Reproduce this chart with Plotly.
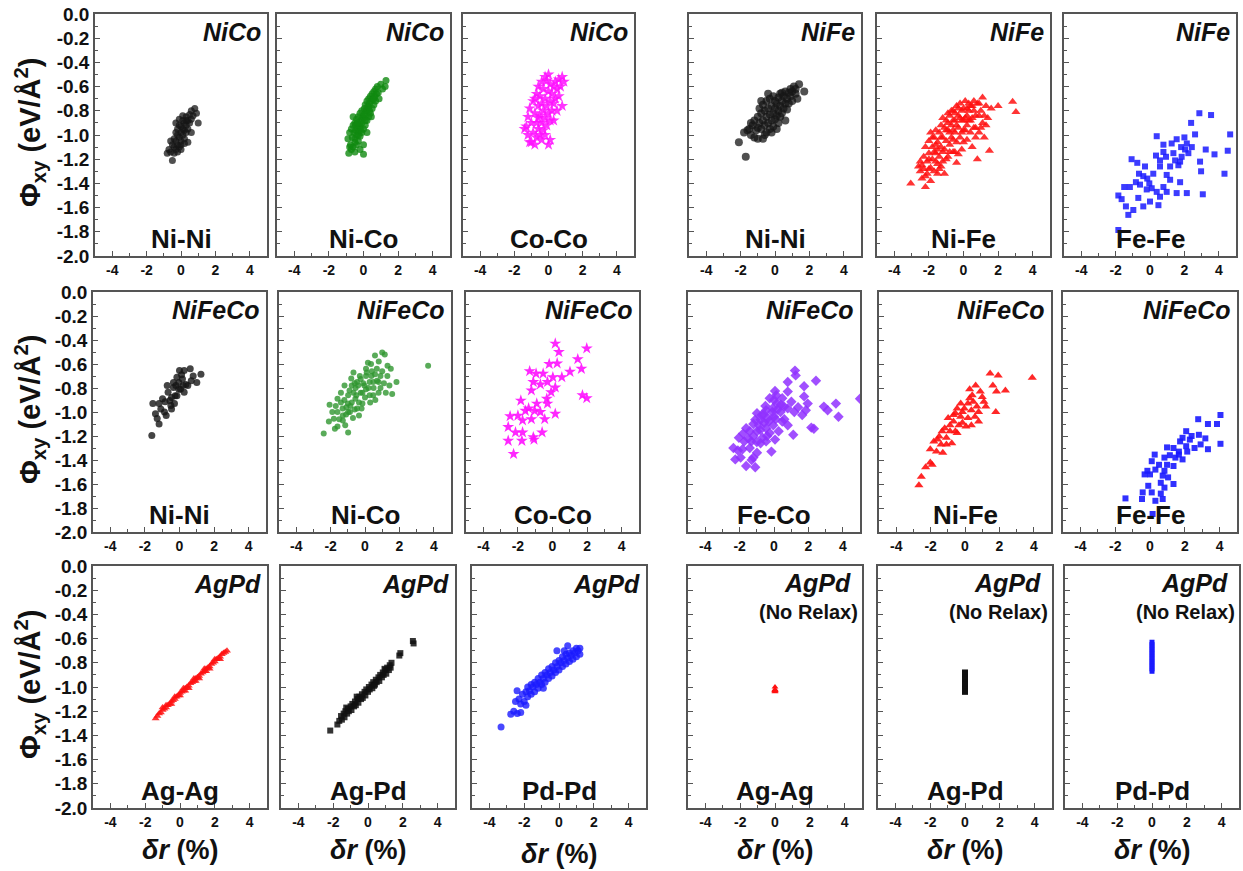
import plotly.graph_objects as go

W, H = 1243, 871

# ---------------- data ----------------
NICO_NINI = [(-0.8,-1.15),(-0.7,-1.12),(-0.6,-1.14),(-0.5,-1.21),(-0.5,-1.08),(-0.4,-1.10),(-0.4,-1.03),
             (-0.3,-1.12),(-0.3,-1.05),(-0.3,-0.98),(-0.2,-1.08),(-0.2,-1.00),(-0.2,-0.95),(-0.1,-1.10),
             (-0.1,-1.02),(-0.1,-0.92),(0.0,-1.05),(0.0,-0.98),(0.0,-0.93),(0.0,-1.12),(0.1,-1.00),(0.1,-0.95),
             (0.1,-0.88),(0.2,-1.03),(0.2,-0.96),(0.2,-0.90),(0.3,-0.98),(0.3,-0.92),(0.3,-0.85),(0.4,-0.95),
             (0.4,-0.88),(0.5,-0.90),(0.5,-0.83),(0.6,-0.87),(0.6,-0.80),(0.7,-0.84),(0.8,-0.78),(0.9,-0.82),
             (1.0,-0.90),(-0.6,-1.05),(-0.4,-1.15),(-0.2,-1.14),(0.0,-1.08),(0.2,-1.07),(0.4,-1.06),(0.6,-0.98),
             (-0.1,-0.87),(0.1,-0.84),(0.3,-0.88),(-0.3,-0.90)]
NICO_NICO = [(-0.9,-1.03),(-0.85,-1.15),(-0.8,-0.98),(-0.75,-1.08),(-0.7,-1.12),(-0.7,-0.95),(-0.65,-1.02),
             (-0.6,-1.10),(-0.6,-0.92),(-0.55,-0.98),(-0.5,-1.14),(-0.5,-1.03),(-0.5,-0.90),(-0.45,-0.96),
             (-0.4,-1.08),(-0.4,-1.00),(-0.4,-0.87),(-0.35,-0.94),(-0.3,-1.05),(-0.3,-0.97),(-0.3,-0.85),
             (-0.25,-0.91),(-0.2,-1.01),(-0.2,-0.93),(-0.2,-0.82),(-0.15,-0.88),(-0.1,-0.98),(-0.1,-0.90),
             (-0.1,-0.80),(-0.05,-0.85),(0.0,-1.16),(0.0,-0.95),(0.0,-0.86),(0.05,-0.78),(0.1,-0.92),(0.1,-0.84),
             (0.1,-0.75),(0.15,-0.80),(0.2,-0.88),(0.2,-0.80),(0.2,-0.72),(0.25,-0.76),(0.3,-0.85),(0.3,-0.77),
             (0.3,-0.70),(0.35,-0.74),(0.4,-0.82),(0.4,-0.68),(0.45,-0.72),(0.5,-0.78),(0.5,-0.66),(0.55,-0.70),
             (0.6,-0.75),(0.6,-0.64),(0.65,-0.68),(0.7,-0.72),(0.7,-0.62),(0.75,-0.66),(0.8,-0.60),(0.85,-0.65),
             (0.9,-0.70),(1.0,-0.58),(1.1,-0.62),(1.3,-0.55),(1.25,-0.60),(-0.2,-1.12),(0.0,-1.08),(-0.6,-0.85),
             (-0.3,-1.00),(0.2,-0.98),(0.45,-0.85),(-0.45,-0.92),(-0.15,-0.96),(0.1,-0.88),(0.35,-0.80),
             (0.6,-0.70),(-0.8,-1.10),(-0.5,-1.06),(0.05,-0.83),(-0.35,-0.90)]
NICO_COCO = [(-1.3,-0.93),(-1.4,-0.95),(-1.2,-0.85),(-1.2,-1.0),(-1.1,-0.78),(-1.0,-1.06),(-1.0,-0.9),
             (-0.9,-0.72),(-0.9,-0.98),(-0.8,-0.82),(-0.8,-1.08),(-0.7,-0.66),(-0.7,-0.9),(-0.7,-1.02),
             (-0.6,-0.6),(-0.6,-0.76),(-0.6,-0.95),(-0.5,-0.68),(-0.5,-0.84),(-0.5,-1.0),(-0.4,-0.56),
             (-0.4,-0.74),(-0.4,-0.9),(-0.4,-1.04),(-0.3,-0.62),(-0.3,-0.8),(-0.3,-0.96),(-0.2,-0.7),
             (-0.2,-0.86),(-0.2,-1.0),(-0.1,-0.55),(-0.1,-0.76),(-0.1,-0.92),(0.0,-0.5),(0.0,-0.64),(0.0,-0.82),
             (0.0,-1.08),(0.1,-0.58),(0.1,-0.72),(0.1,-1.04),(0.2,-0.66),(0.2,-0.8),(0.3,-0.6),(0.3,-0.74),
             (0.4,-0.56),(0.4,-0.7),(0.5,-0.62),(0.5,-0.8),(0.6,-0.54),(0.6,-0.68),(0.7,-0.6),(0.8,-0.52),
             (0.9,-0.56),(0.8,-0.76),(-0.8,-0.7),(-1.1,-1.06),(-0.2,-0.52),(0.3,-0.88),(-0.6,-0.86),(0.1,-0.88)]
NIFE_NINI = [(-2.1,-1.06),(-1.7,-1.18),(-1.8,-0.98),(-1.5,-0.95),(-1.4,-1.0),(-1.3,-0.92),(-1.2,-1.02),
             (-1.2,-0.88),(-1.1,-0.96),(-1.0,-0.85),(-1.0,-1.03),(-0.9,-0.9),(-0.9,-0.78),(-0.8,-0.95),
             (-0.8,-0.82),(-0.7,-1.03),(-0.7,-0.88),(-0.7,-0.75),(-0.6,-0.92),(-0.6,-0.8),(-0.5,-0.98),
             (-0.5,-0.85),(-0.5,-0.72),(-0.4,-0.9),(-0.4,-0.78),(-0.3,-0.95),(-0.3,-0.83),(-0.3,-0.7),
             (-0.2,-0.88),(-0.2,-0.76),(-0.1,-0.93),(-0.1,-0.82),(-0.1,-0.68),(0.0,-0.87),(0.0,-0.78),
             (0.0,-0.72),(0.1,-0.84),(0.1,-0.74),(0.2,-0.9),(0.2,-0.8),(0.2,-0.69),(0.3,-0.85),(0.3,-0.76),
             (0.4,-0.82),(0.4,-0.72),(0.4,-0.65),(0.5,-0.78),(0.5,-0.68),(0.6,-0.88),(0.6,-0.74),(0.6,-0.64),
             (0.7,-0.79),(0.7,-0.7),(0.8,-0.74),(0.8,-0.65),(0.9,-0.68),(0.9,-0.62),(1.0,-0.72),(1.0,-0.64),
             (1.1,-0.6),(1.2,-0.66),(1.2,-0.62),(1.4,-0.58),(1.3,-0.7),(1.7,-0.64),(-0.6,-1.0),(-1.0,-0.94),
             (-0.2,-0.98),(0.1,-0.95),(-1.6,-0.96),(-0.4,-0.66),(-0.8,-0.72),(-1.4,-0.9),(0.3,-0.66)]
NIFE_NIFE = [(-3.05,-1.40),(-2.2,-1.43),(-2.5,-1.30),(-2.5,-1.22),(-2.4,-1.36),(-2.3,-1.28),(-2.3,-1.18),
             (-2.2,-1.10),(-2.1,-1.32),(-2.1,-1.22),(-2.0,-1.15),(-2.0,-1.05),(-1.9,-1.27),(-1.9,-0.98),
             (-1.8,-1.20),(-1.8,-1.10),(-1.7,-1.02),(-1.7,-1.30),(-1.6,-1.15),(-1.6,-0.96),(-1.5,-1.24),
             (-1.5,-1.06),(-1.4,-0.98),(-1.4,-1.18),(-1.3,-1.10),(-1.3,-0.92),(-1.2,-1.02),(-1.2,-1.22),
             (-1.1,-1.32),(-1.1,-0.94),(-1.1,-1.12),(-1.0,-0.88),(-1.0,-1.05),(-0.9,-1.18),(-0.9,-0.96),
             (-0.8,-0.84),(-0.8,-1.08),(-0.7,-0.92),(-0.7,-1.02),(-0.6,-0.80),(-0.6,-1.14),(-0.5,-0.88),
             (-0.5,-0.98),(-0.4,-0.76),(-0.4,-1.06),(-0.4,-1.23),(-0.3,-0.84),(-0.3,-0.94),(-0.2,-0.74),
             (-0.2,-1.02),(-0.1,-0.88),(-0.1,-1.12),(0.0,-0.78),(0.0,-0.96),(0.1,-0.72),(0.1,-0.86),
             (0.2,-1.04),(0.2,-0.92),(0.3,-0.80),(0.3,-0.74),(0.4,-0.98),(0.4,-0.88),(0.5,-0.76),(0.5,-1.10),
             (0.6,-0.72),(0.6,-0.94),(0.7,-0.84),(0.8,-0.74),(0.8,-1.20),(0.9,-0.98),(1.0,-0.80),(1.1,-0.69),
             (1.1,-0.90),(1.2,-1.02),(1.3,-0.76),(1.4,-0.86),(1.5,-1.13),(1.6,-0.78),(2.0,-0.76),(2.84,-0.725),
             (3.03,-0.81),(-2.6,-1.26),(-1.9,-1.38),(-1.2,-0.86),(-0.3,-1.16),(-0.9,-0.82),(0.0,-1.06),
             (-1.5,-1.32),(0.7,-1.02),(1.2,-0.84),(-0.6,-0.88),(-2.0,-1.20),(-1.6,-1.08),(0.2,-0.78),
             (-0.5,-1.14),(1.0,-0.94),(-0.8,-0.98),(-1.3,-1.26),
             (-2.4,-1.25),(-2.2,-1.34),(-2.0,-1.28),(-1.8,-1.02),(-1.7,-1.14),(-1.5,-1.12),(-1.4,-1.28),
             (-1.2,-1.14),(-1.0,-0.96),(-1.0,-1.20),(-0.9,-0.90),(-0.8,-1.14),(-0.7,-0.80),(-0.6,-1.04),
             (-0.5,-0.82),(-0.4,-0.92),(-0.3,-0.78),(-0.2,-0.86),(-0.1,-0.80),(-0.1,-0.98),(0.1,-0.96),
             (0.2,-0.84),(0.3,-0.88),(0.4,-0.76),(0.5,-0.86),(0.6,-0.80),(0.7,-0.94),(0.9,-0.84),(0.9,-0.74),
             (1.3,-0.92),(-1.3,-1.02),(-1.6,-1.22),(-0.6,-0.96),(0.0,-0.88)]
NIFE_FEFE = [(2.87,-0.82),(3.55,-0.835),(2.39,-0.90),(4.66,-0.995),(2.62,-0.995),(0.39,-1.01),(1.55,-1.035),
             (2.0,-1.02),(0.78,-1.08),(3.24,-1.12),(3.75,-1.16),(4.52,-1.13),(4.33,-1.32),(3.07,-1.49),
             (2.91,-1.22),(2.97,-1.30),(-1.07,-1.20),(-0.74,-1.23),(-0.29,-1.26),(-1.84,-1.50),(-1.65,-1.53),
             (-1.40,-1.59),(-1.26,-1.66),(-0.97,-1.62),(-1.50,-1.43),(-1.17,-1.43),(-0.58,-1.41),(-0.68,-1.52),
             (-0.39,-1.59),(0.0,-1.55),(0.49,-1.58),(-1.84,-1.785),(2.14,-1.48),(1.55,-1.48),(1.75,-1.39),
             (1.17,-1.37),(0.97,-1.33),(0.58,-1.26),(0.19,-1.32),(-0.16,-1.36),(0.10,-1.44),(0.39,-1.47),
             (0.78,-1.43),(1.17,-1.26),(1.46,-1.21),(1.84,-1.18),(2.23,-1.15),(2.43,-1.10),(2.04,-1.12),
             (1.65,-1.25),(0.93,-1.18),(0.58,-1.21),(0.78,-1.14),(0.35,-1.17),(1.36,-1.15),(-0.39,-1.34),
             (-0.64,-1.32),(-0.82,-1.39),(-0.19,-1.45),(0.58,-1.51),(0.97,-1.47),(1.75,-1.22),(2.14,-1.07),
             (1.81,-1.10),(1.26,-1.07),(-0.04,-1.40)]
NFC_NINI = [(-1.60,-1.195),(-1.18,-1.10),(-1.39,-1.015),(-1.54,-0.93),(-1.08,-0.975),(-0.77,-1.03),
            (-0.87,-1.00),(-0.98,-0.89),(-0.56,-0.905),(-0.46,-0.975),(-0.66,-0.835),(-0.35,-0.795),
            (-0.25,-0.865),(-0.04,-0.755),(0.06,-0.81),(0.17,-0.725),(-0.15,-0.71),(0.0,-0.655),(0.27,-0.655),
            (0.62,-0.64),(0.79,-0.70),(1.0,-0.755),(1.24,-0.685),(0.48,-0.78),(0.27,-0.835),(-0.15,-0.865),
            (-0.46,-0.88),(-0.29,-0.93),(0.37,-0.77),(0.68,-0.74),(0.21,-0.78),(-0.21,-0.78),(-0.50,-0.945),
            (-0.83,-0.915),(-1.18,-0.93),(-1.29,-1.055),(0.12,-0.69),(-0.35,-0.755),(-0.04,-0.81),(-0.71,-0.78)]
NFC_NICO = [(-2.40,-1.18),(-1.75,-1.14),(-2.06,-0.94),(-1.81,-1.057),(-1.60,-1.00),(-1.40,-0.92),
            (-1.29,-1.07),(-1.15,-1.11),(-1.08,-0.96),(-0.98,-0.86),(-0.875,-1.00),(-0.77,-0.78),
            (-0.67,-0.67),(-0.56,-0.89),(-0.46,-0.75),(-0.35,-1.03),(-0.25,-0.84),(-0.15,-0.93),
            (-0.04,-0.78),(0.06,-0.64),(0.17,-0.59),(0.27,-0.86),(0.375,-0.70),(0.48,-0.75),(0.58,-0.53),
            (0.69,-0.64),(0.79,-0.84),(0.90,-0.70),(1.0,-0.505),(1.15,-0.52),(1.31,-0.615),(1.42,-0.78),
            (1.58,-0.85),(1.83,-0.75),(3.67,-0.615),(-1.40,-0.84),(-1.19,-0.78),(-1.60,-0.89),(-0.98,-1.00),
            (-0.77,-0.92),(-0.46,-0.97),(-0.25,-0.725),(-0.67,-0.84),(0.06,-0.81),(0.27,-0.75),(0.58,-0.685),
            (0.79,-0.75),(0.48,-0.86),(-0.15,-0.84),(-0.98,-1.17),(-1.29,-1.03),(-0.60,-0.76),(0.06,-0.70),
            (1.21,-0.84),
            (-1.9,-1.00),(-1.7,-0.95),(-1.5,-1.06),(-1.3,-0.97),(-1.2,-0.90),(-1.1,-1.02),(-1.0,-0.93),
            (-0.9,-0.82),(-0.85,-0.95),(-0.7,-1.05),(-0.6,-0.98),(-0.55,-0.80),(-0.5,-0.86),(-0.4,-0.78),
            (-0.35,-0.92),(-0.3,-0.70),(-0.2,-0.97),(-0.1,-0.76),(0.0,-0.88),(0.1,-0.67),(0.2,-0.80),
            (0.3,-0.92),(0.4,-0.66),(0.5,-0.80),(0.6,-0.90),(0.7,-0.74),(0.9,-0.80),(1.0,-0.66),(1.1,-0.76),
            (1.3,-0.70),(1.5,-0.64),(-1.6,-1.12),(-2.1,-1.08),(-0.8,-0.72),(0.8,-0.58),(0.35,-0.60)]
NFC_COCO = [(0.16,-0.43),(1.98,-0.47),(0.37,-0.50),(1.46,-0.56),(-0.19,-0.60),(0.27,-0.595),(-1.32,-0.66),
            (-0.95,-0.68),(-0.54,-0.68),(0.02,-0.71),(0.54,-0.71),(1.01,-0.665),(1.67,-0.64),(-1.11,-0.75),
            (-0.70,-0.77),(-0.29,-0.75),(0.16,-0.795),(-1.22,-0.82),(1.73,-0.86),(1.98,-0.885),(-1.83,-0.905),
            (-0.91,-0.93),(-0.33,-0.89),(-0.29,-0.93),(-1.38,-0.97),(-1.03,-0.99),(-2.45,-1.035),(-2.0,-1.03),
            (-1.73,-1.07),(-1.22,-1.06),(-0.45,-1.06),(0.16,-1.015),(-2.56,-1.125),(-2.14,-1.17),(-1.73,-1.17),
            (-1.11,-1.21),(-0.60,-1.17),(-2.56,-1.24),(-1.77,-1.24),(-1.07,-1.23),(-2.25,-1.35),(-0.70,-1.00),
            (-1.57,-0.99),(-0.08,-0.835)]
NFC_FECO = [(1.22,-0.655),(1.26,-0.695),(2.44,-0.74),(1.75,-0.785),(0.80,-0.75),(0.06,-0.825),(0.13,-0.86),
            (-0.25,-0.885),(0.48,-0.885),(0.80,-0.83),(1.01,-0.915),(1.75,-0.87),(1.96,-0.93),(2.90,-0.955),
            (3.12,-0.985),(3.60,-0.93),(3.75,-1.04),(5.0,-0.89),(1.85,-0.985),(1.64,-1.025),(1.18,-1.00),
            (0.80,-0.97),(0.38,-1.00),(-0.08,-0.97),(-0.46,-0.985),(-0.72,-1.025),(-0.99,-1.01),(-1.09,-1.065),
            (-0.78,-1.065),(-0.36,-1.05),(0.0,-1.04),(0.48,-1.08),(0.80,-1.11),(1.12,-1.19),(2.17,-1.13),
            (2.32,-1.14),(-1.62,-1.135),(-1.41,-1.16),(-0.99,-1.16),(-0.46,-1.135),(-0.04,-1.11),(0.27,-1.16),
            (-2.04,-1.215),(-1.73,-1.245),(-1.31,-1.245),(-0.78,-1.26),(-0.46,-1.245),(0.06,-1.23),
            (-2.36,-1.30),(-1.83,-1.31),(-1.41,-1.30),(-0.99,-1.34),(-0.15,-1.33),(-2.25,-1.395),(-1.94,-1.38),
            (-1.62,-1.45),(-1.09,-1.46),(-1.20,-1.38),(-0.67,-1.215),(-0.25,-1.175),(0.17,-0.93),(0.59,-0.955),
            (-0.88,-1.11),(-0.57,-1.09),(-1.20,-1.20),
            (-1.5,-1.22),(-1.2,-1.10),(-1.0,-1.25),(-0.8,-1.15),(-0.6,-1.02),(-0.4,-1.20),(-0.3,-1.08),
            (-0.1,-1.00),(0.1,-1.06),(0.2,-0.98),(0.4,-0.94),(0.6,-1.06),(-1.8,-1.18),(-2.1,-1.32),
            (-0.5,-0.95),(0.0,-0.90),(1.4,-0.96),(-1.3,-1.40)]
NFC_NIFE = [(1.46,-0.68),(1.93,-0.695),(3.91,-0.715),(2.35,-0.82),(1.83,-0.83),(1.62,-0.78),(0.62,-0.78),
            (0.27,-0.81),(0.42,-0.86),(1.0,-0.875),(1.10,-0.915),(1.79,-1.00),(0.69,-0.955),(0.17,-0.93),
            (-0.25,-0.93),(-0.04,-0.97),(0.37,-0.985),(-0.56,-1.01),(-0.25,-1.04),(0.17,-1.05),(0.58,-1.04),
            (0.79,-1.08),(-0.98,-1.05),(-0.67,-1.08),(-0.35,-1.11),(0.06,-1.12),(-1.18,-1.135),(-0.87,-1.16),
            (-0.46,-1.175),(-1.50,-1.205),(-1.08,-1.215),(-0.77,-1.26),(-1.81,-1.245),(-1.39,-1.27),
            (-1.08,-1.27),(-2.02,-1.31),(-1.66,-1.33),(-1.29,-1.34),(-2.02,-1.42),(-1.91,-1.44),(-2.29,-1.46),
            (-2.54,-1.54),(-2.68,-1.61),(-0.67,-1.025),(-0.15,-1.00),(0.48,-0.915),(0.89,-0.83),(0.27,-0.885),
            (-0.56,-1.16),(-0.15,-1.09),(0.37,-1.11),(-0.87,-1.11),(-1.33,-1.16),(-1.60,-1.23),(-0.46,-0.97),
            (1.21,-0.955),(0.79,-1.00)]
NFC_FEFE = [(4.05,-1.025),(2.77,-1.06),(3.33,-1.10),(3.85,-1.10),(4.05,-1.265),(2.81,-1.19),(3.18,-1.22),
            (3.33,-1.31),(2.91,-1.27),(2.56,-1.30),(2.29,-1.23),(1.73,-1.245),(2.08,-1.285),(1.66,-1.33),
            (1.35,-1.30),(0.98,-1.295),(1.14,-1.36),(1.46,-1.38),(1.87,-1.395),(0.83,-1.38),(0.52,-1.44),
            (0.98,-1.44),(1.35,-1.45),(0.10,-1.41),(0.31,-1.48),(0.83,-1.49),(-0.31,-1.52),(0.0,-1.52),
            (0.73,-1.53),(1.04,-1.545),(1.35,-1.60),(0.62,-1.59),(0.83,-1.63),(-0.10,-1.615),(0.10,-1.67),
            (-0.42,-1.67),(0.62,-1.68),(0.73,-1.725),(-1.41,-1.72),(-0.46,-1.725),(0.31,-1.74),(0.15,-1.85),
            (-0.15,-1.49),(0.27,-1.355),(2.08,-1.16),(1.87,-1.215),(2.39,-1.20),(1.66,-1.355),(2.14,-1.33)]
AGPD_AGAG = [(-1.4,-1.26),(-1.3,-1.24),(-1.2,-1.22),(-1.1,-1.21),(-1.0,-1.19),(-0.9,-1.18),(-0.8,-1.17),
             (-0.7,-1.15),(-0.6,-1.14),(-0.5,-1.12),(-0.4,-1.11),(-0.3,-1.10),(-0.2,-1.08),(-0.1,-1.07),
             (0.0,-1.05),(0.1,-1.04),(0.2,-1.03),(0.3,-1.01),(0.4,-1.00),(0.5,-0.99),(0.6,-0.97),(0.7,-0.96),
             (0.8,-0.95),(0.9,-0.93),(1.0,-0.92),(1.1,-0.91),(1.2,-0.89),(1.3,-0.88),(1.4,-0.87),(1.5,-0.85),
             (1.6,-0.84),(1.7,-0.83),(1.8,-0.81),(1.9,-0.80),(2.0,-0.79),(2.1,-0.77),(2.2,-0.76),(2.3,-0.75),
             (2.4,-0.73),(2.5,-0.72),(2.6,-0.71),(2.7,-0.70),(-0.8,-1.15),(-0.5,-1.14),(0.2,-1.01),(0.5,-1.01),
             (0.8,-0.93),(1.1,-0.93),(1.4,-0.85),(1.7,-0.85),(2.0,-0.77),(0.0,-1.07),(-1.0,-1.17),(0.9,-0.95),
             (1.5,-0.87),(2.3,-0.77),(0.3,-1.03),(-0.3,-1.08)]
AGPD_AGPD = [(-2.17,-1.36),(-1.76,-1.31),(-1.65,-1.28),(-1.55,-1.24),(-1.5,-1.27),(-1.4,-1.22),(-1.35,-1.25),
             (-1.3,-1.20),(-1.2,-1.22),(-1.15,-1.18),(-1.1,-1.20),(-1.0,-1.16),(-0.95,-1.19),(-0.9,-1.14),
             (-0.8,-1.16),(-0.75,-1.12),(-0.7,-1.15),(-0.6,-1.10),(-0.55,-1.13),(-0.5,-1.08),(-0.4,-1.10),
             (-0.35,-1.06),(-0.3,-1.09),(-0.2,-1.04),(-0.15,-1.07),(-0.1,-1.02),(0.0,-1.04),(0.05,-1.00),
             (0.1,-1.02),(0.2,-0.98),(0.25,-1.01),(0.3,-0.96),(0.4,-0.98),(0.45,-0.94),(0.5,-0.96),(0.6,-0.92),
             (0.65,-0.95),(0.7,-0.90),(0.8,-0.92),(0.85,-0.88),(0.9,-0.90),(1.0,-0.86),(1.05,-0.89),(1.1,-0.84),
             (1.2,-0.86),(1.25,-0.82),(1.3,-0.84),(1.35,-0.80),(1.86,-0.72),(1.8,-0.74),(2.58,-0.62),
             (2.62,-0.64),(-0.65,-1.08),(0.35,-0.99),(-1.25,-1.17),(0.95,-0.85)]
AGPD_PDPD = [(-3.33,-1.33),(-2.77,-1.225),(-2.6,-1.20),(-2.4,-1.22),(-2.2,-1.21),(-2.41,-1.03),(-2.3,-1.10),
             (-2.2,-1.14),(-2.1,-1.06),(-2.0,-1.12),(-1.9,-1.04),(-1.8,-1.08),(-1.8,-1.00),(-1.7,-1.03),
             (-1.6,-0.98),(-1.6,-1.06),(-1.5,-1.00),(-1.4,-0.96),(-1.4,-1.04),(-1.3,-0.98),(-1.2,-0.93),
             (-1.2,-1.01),(-1.1,-0.96),(-1.0,-0.90),(-1.0,-0.98),(-0.9,-0.93),(-0.8,-0.88),(-0.8,-0.96),
             (-0.7,-0.90),(-0.6,-0.85),(-0.6,-0.93),(-0.5,-0.88),(-0.4,-0.83),(-0.4,-0.91),(-0.3,-0.86),
             (-0.2,-0.80),(-0.2,-0.88),(-0.1,-0.83),(0.0,-0.78),(0.0,-0.86),(0.1,-0.80),(0.2,-0.75),(0.2,-0.83),
             (0.3,-0.78),(0.4,-0.73),(0.4,-0.81),(0.5,-0.76),(0.5,-0.66),(0.6,-0.72),(0.6,-0.79),(0.7,-0.74),
             (0.8,-0.70),(0.8,-0.77),(0.9,-0.72),(1.0,-0.68),(1.0,-0.75),(1.1,-0.70),(1.2,-0.68),(1.2,-0.73),
             (-0.12,-0.70),(-1.9,-1.15),(-2.5,-1.12),(-0.9,-1.01),(0.3,-0.70)]
NR_AGAG = [(0.0,-1.00),(0.0,-1.02),(0.0,-1.04),(-0.03,-1.03),(0.03,-1.03)]
NR_AGPD = [(0.0,-0.88),(0.0,-0.90),(0.0,-0.92),(0.0,-0.94),(0.0,-0.96),(0.0,-0.98),(0.0,-1.00),
           (0.0,-1.02),(0.0,-1.04)]
NR_PDPD = [(0.0,-0.63),(0.0,-0.65),(0.0,-0.67),(0.0,-0.69),(0.0,-0.71),(0.0,-0.73),(0.0,-0.75),
           (0.0,-0.77),(0.0,-0.79),(0.0,-0.81),(0.0,-0.83),(0.0,-0.85),(0.0,-0.87)]

ALLOYS = [["NiCo", "NiCo", "NiCo", "NiFe", "NiFe", "NiFe"],
          ["NiFeCo"] * 6,
          ["AgPd"] * 6]
BONDS = [["Ni-Ni", "Ni-Co", "Co-Co", "Ni-Ni", "Ni-Fe", "Fe-Fe"],
         ["Ni-Ni", "Ni-Co", "Co-Co", "Fe-Co", "Ni-Fe", "Fe-Fe"],
         ["Ag-Ag", "Ag-Pd", "Pd-Pd", "Ag-Ag", "Ag-Pd", "Pd-Pd"]]
SERIES = [[NICO_NINI, NICO_NICO, NICO_COCO, NIFE_NINI, NIFE_NIFE, NIFE_FEFE],
          [NFC_NINI, NFC_NICO, NFC_COCO, NFC_FECO, NFC_NIFE, NFC_FEFE],
          [AGPD_AGAG, AGPD_AGPD, AGPD_PDPD, NR_AGAG, NR_AGPD, NR_PDPD]]

XTICKS = [-4, -2, 0, 2, 4]
XTICKTEXT = ["-4", "-2", "0", "2", "4"]
YTICKS = [0.0, -0.2, -0.4, -0.6, -0.8, -1.0, -1.2, -1.4, -1.6, -1.8, -2.0]
YTICKTEXT = ["0.0", "-0.2", "-0.4", "-0.6", "-0.8", "-1.0", "-1.2", "-1.4", "-1.6", "-1.8", "-2.0"]
XMINOR = [-3, -1, 1, 3]
YMINOR = [-0.1, -0.3, -0.5, -0.7, -0.9, -1.1, -1.3, -1.5, -1.7, -1.9]

# ---------------- styles ----------------
STYLES = [
    [("circle", "#151515", 7, 0.75), ("circle", "#108a10", 7, 0.8), ("star", "#ff10ff", 9, 0.85),
     ("circle", "#151515", 8, 0.75), ("triangle-up", "#ff1010", 8, 0.85), ("square", "#1a1aff", 6, 0.85)],
    [("circle", "#151515", 7, 0.8), ("circle", "#2f962f", 6, 0.8), ("star", "#ff10ff", 9, 0.9),
     ("diamond", "#9030ff", 8, 0.85), ("triangle-up", "#ff1010", 8, 0.9), ("square", "#1a1aff", 6, 0.9)],
    [("triangle-up", "#ff1010", 7, 0.85), ("square", "#111111", 6, 0.85), ("circle", "#1a1aff", 7, 0.8),
     ("triangle-up", "#ff1010", 6, 1.0), ("square", "#111111", 6, 1.0), ("square", "#1a1aff", 5, 1.0)],
]

ROW_Y = [(14, 256), (292, 532), (566, 808)]
COL_X = [
    [(95, 267), (277, 450), (463, 634), (689, 861), (877, 1050), (1064, 1236)],
    [(93, 266), (279, 451), (466, 639), (688, 860), (879, 1051), (1063, 1237)],
    [(93, 267), (281, 455), (472, 646), (688, 862), (878, 1052), (1065, 1239)],
]

FONT = "Liberation Sans, Arial, sans-serif"
AXC = "#555555"

def px_x(p):
    return p / W

def px_y(p):
    return 1 - p / H

fig = go.Figure()
layout = {}
annotations = []

k = 0
for r in range(3):
    y0, y1 = ROW_Y[r]
    for c in range(6):
        k += 1
        x0, x1 = COL_X[r][c]
        pts = SERIES[r][c]
        sym, col, size, op = STYLES[r][c]
        suffix = "" if k == 1 else str(k)
        fig.add_trace(go.Scatter(
            x=[p[0] for p in pts], y=[p[1] for p in pts], mode="markers",
            marker=dict(symbol=sym, color=col, size=size, opacity=op, line=dict(width=0)),
            xaxis="x" + suffix, yaxis="y" + suffix, showlegend=False, hoverinfo="x+y"))
        layout["xaxis" + suffix] = dict(
            domain=[px_x(x0), px_x(x1)], anchor="y" + suffix, range=[-5, 5], automargin=False,
            showline=True, linecolor=AXC, linewidth=1.5, mirror=True,
            showgrid=False, zeroline=False, ticks="inside", ticklen=5, tickwidth=1.2, tickcolor=AXC,
            tickmode="array", tickvals=XTICKS, ticktext=XTICKTEXT,
            tickfont=dict(family=FONT, size=14, color="#111", weight="bold"),
            minor=dict(tickmode="array", tickvals=XMINOR, ticks="inside", ticklen=3, tickwidth=1.0,
                       tickcolor=AXC, showgrid=False),
            fixedrange=True)
        layout["yaxis" + suffix] = dict(
            domain=[px_y(y1), px_y(y0)], anchor="x" + suffix, range=[-2.0, 0.0], automargin=False,
            showline=True, linecolor=AXC, linewidth=1.5, mirror=True,
            showgrid=False, zeroline=False, ticks="inside", ticklen=5, tickwidth=1.2, tickcolor=AXC,
            tickmode="array", tickvals=YTICKS, ticktext=YTICKTEXT, showticklabels=(c == 0),
            tickfont=dict(family=FONT, size=19, color="#111", weight="bold"),
            minor=dict(tickmode="array", tickvals=YMINOR, ticks="inside", ticklen=3, tickwidth=1.0,
                       tickcolor=AXC, showgrid=False),
            fixedrange=True)
        # alloy label (top right)
        if r == 2 and c >= 3:
            annotations.append(dict(text="<b><i>" + ALLOYS[r][c] + "</i></b>", x=px_x(x1 - 9),
                                    y=px_y(y0 + 17), xref="paper", yref="paper", xanchor="right",
                                    yanchor="middle", showarrow=False,
                                    font=dict(family=FONT, size=25, color="#111")))
            annotations.append(dict(text="<b>(No Relax)</b>", x=px_x(x1 - 2),
                                    y=px_y(y0 + 46), xref="paper", yref="paper", xanchor="right",
                                    yanchor="middle", showarrow=False,
                                    font=dict(family=FONT, size=20, color="#111")))
        else:
            annotations.append(dict(text="<b><i>" + ALLOYS[r][c] + "</i></b>", x=px_x(x1 - 4),
                                    y=px_y(y0 + 18), xref="paper", yref="paper", xanchor="right",
                                    yanchor="middle", showarrow=False,
                                    font=dict(family=FONT, size=25, color="#111")))
        # bond label (bottom centre)
        annotations.append(dict(text="<b>" + BONDS[r][c] + "</b>", x=px_x((x0 + x1) / 2),
                                y=px_y(y1 - 17), xref="paper", yref="paper", xanchor="center",
                                yanchor="middle", showarrow=False,
                                font=dict(family=FONT, size=26, color="#111")))
        if r == 2:
            annotations.append(dict(text="<b><i>δr</i> (%)</b>", x=px_x((x0 + x1) / 2),
                                    y=px_y(850 if c != 2 else 854), xref="paper", yref="paper",
                                    xanchor="center", yanchor="middle", showarrow=False,
                                    font=dict(family=FONT, size=27, color="#111")))
    # y title per row
    annotations.append(dict(text="<b>Φ<sub>xy</sub> (eV/Å<sup>2</sup>)</b>", x=px_x(30),
                            y=px_y((y0 + y1) / 2 - 3), xref="paper", yref="paper", xanchor="center",
                            yanchor="middle", textangle=-90, showarrow=False,
                            font=dict(family=FONT, size=29, color="#111")))

fig.update_layout(**layout)
fig.update_layout(
    width=W, height=H, margin=dict(l=0, r=0, t=0, b=0, pad=0), autosize=False,
    paper_bgcolor="white", plot_bgcolor="white", showlegend=False,
    annotations=annotations, font=dict(family=FONT, color="#111"))

fig.write_html("out.html",
               config={"displayModeBar": False},
               post_script="document.body.style.margin='0px';document.body.style.padding='0px';"
                           "document.documentElement.style.overflow='hidden';"
                           "document.body.style.overflow='hidden';")
